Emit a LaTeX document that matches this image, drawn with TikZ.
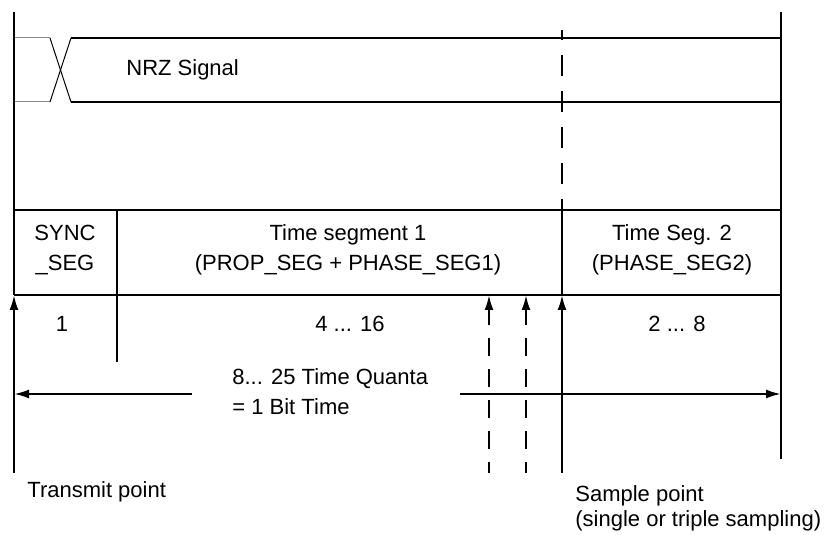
\documentclass[tikz,border=0pt]{standalone}
\usepackage{fontspec}
\setmainfont{Liberation Sans}
\usetikzlibrary{arrows.meta,positioning,calc}
\definecolor{edgegray}{HTML}{8C8C8C}

\begin{document}
\begin{tikzpicture}[
    x=0.5pt, y=-0.5pt,
    >={Latex[length=7.5pt,width=4.5pt]},
    every node/.style={font=\fontsize{11}{15}\selectfont, inner sep=0pt},
    frameline/.style={line width=1.1pt},
    signalline/.style={line width=1.3pt},
    edgeline/.style={line width=0.5pt, edgegray},
    crossline/.style={line width=0.5pt},
    cellbox/.style={align=center},
    pointarrow/.style={->, line width=1.1pt},
    sampledash/.style={line width=1.2pt, dash pattern=on 10.5pt off 7.5pt, dash phase=5.5pt},
    phasedash/.style={->, line width=1.1pt, dash pattern=on 9pt off 6.5pt, dash phase=3.5pt},
]
\useasboundingbox (0,0) rectangle (827,535);

% ===== Key points =====
\coordinate (ftl) at (14,12);
\coordinate (ftr) at (781,12);
\coordinate (fbr) at (781,459);
\coordinate (btl) at (14,210);
\coordinate (btr) at (781,210);
\coordinate (bbl) at (14,295);
\coordinate (bbr) at (781,295);
\coordinate (synctop) at (117,210);
\coordinate (syncbot) at (117,362);
\coordinate (segtop) at (562,210);
\coordinate (segbot) at (562,295);
\coordinate (sampletop) at (562,30);
\coordinate (transmit) at (14,473);
\coordinate (sample) at (562,473);
\coordinate (ph1) at (489,473);
\coordinate (ph1top) at (489,295);
\coordinate (ph2) at (526,473);
\coordinate (ph2top) at (526,295);

% ===== NRZ signal =====
\coordinate (s0t) at (14,38);
\coordinate (s1t) at (50,38);
\coordinate (s2t) at (71,38);
\coordinate (s3t) at (781,38);
\coordinate (s0b) at (14,102);
\coordinate (s1b) at (50,102);
\coordinate (s2b) at (71,102);
\coordinate (s3b) at (781,102);

\draw[edgeline] (s0t) -- (s1t);
\draw[edgeline] (s0b) -- (s1b);
\draw[crossline] (s1t) -- (s2b);
\draw[crossline] (s1b) -- (s2t);
\draw[signalline] (s2t) -- (s3t);
\draw[signalline] (s2b) -- (s3b);

\node[anchor=west] (nrz) at (126,70) {NRZ Signal};

% ===== Frame and segment box =====
\draw[frameline] (ftl) -- (bbl);
\draw[frameline] (ftr) -- (fbr);
\draw[frameline] (btl) -- (btr);
\draw[frameline] (bbl) -- (bbr);
\draw[frameline] (synctop) -- (syncbot);
\draw[frameline] (segtop) -- (segbot);
\draw[sampledash] (sampletop) -- (segtop);

\node[cellbox] (sync) at (65,250) {SYNC\\\_SEG};
\node[cellbox] (tseg1) at (348,250) {Time segment 1\\(PROP\_SEG + PHASE\_SEG1)};
\node[cellbox] (tseg2) at (672,250) {Time Seg. 2\\(PHASE\_SEG2)};

\node (q1) at (62,324) {1};
\node (q2) at (350,324) {4 ... 16};
\node (q3) at (677,324) {2 ... 8};

% ===== Transmit and sample points =====
\draw[pointarrow] (transmit) -- (bbl);
\draw[pointarrow] (sample) -- (segbot);
\draw[phasedash] (ph1) -- (ph1top);
\draw[phasedash] (ph2) -- (ph2top);

% ===== Bit time =====
\node[anchor=west, align=left] (quanta) at (232,392) {8... 25 Time Quanta\\= 1 Bit Time};
\coordinate (qleft) at (192,394);
\coordinate (qlend) at (14,394);
\coordinate (qright) at (460,394);
\coordinate (qrend) at (781,394);
\draw[pointarrow] (qleft) -- (qlend);
\draw[pointarrow] (qright) -- (qrend);

\node[anchor=west] (tx) at (27,492) {Transmit point};
\node[anchor=west, align=left, font=\fontsize{11}{12.5}\selectfont] (sp) at (575,508) {Sample point\\(single or triple sampling)};

\end{tikzpicture}
\end{document}
